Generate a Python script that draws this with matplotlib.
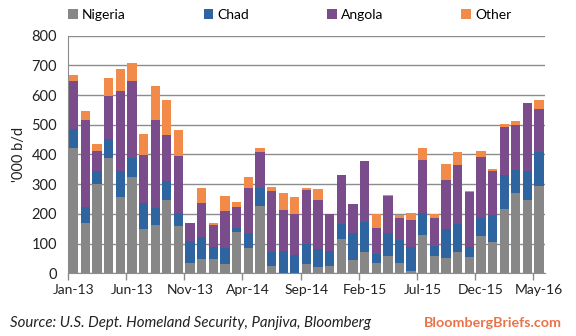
import matplotlib
matplotlib.use("Agg")
import matplotlib.pyplot as plt
import numpy as np

plt.rcParams['font.family'] = ['Lato', 'DejaVu Sans']

months = ["Jan-13", "Feb-13", "Mar-13", "Apr-13", "May-13", "Jun-13", "Jul-13", "Aug-13",
          "Sep-13", "Oct-13", "Nov-13", "Dec-13", "Jan-14", "Feb-14", "Mar-14", "Apr-14",
          "May-14", "Jun-14", "Jul-14", "Aug-14", "Sep-14", "Oct-14", "Nov-14", "Dec-14",
          "Jan-15", "Feb-15", "Mar-15", "Apr-15", "May-15", "Jun-15", "Jul-15", "Aug-15",
          "Sep-15", "Oct-15", "Nov-15", "Dec-15", "Jan-16", "Feb-16", "Mar-16", "Apr-16",
          "May-16"]

nigeria = [421, 168, 302, 387, 256, 323, 148, 162, 246, 158, 34, 47, 47, 33, 138, 86,
           227, 25, 0, 0, 31, 21, 25, 116, 45, 72, 36, 59, 35, 7, 129, 59,
           53, 72, 55, 127, 104, 218, 272, 248, 295]
chad = [64, 54, 44, 64, 90, 66, 90, 59, 64, 46, 76, 76, 43, 53, 16, 50,
        61, 47, 74, 62, 66, 61, 50, 50, 91, 101, 29, 77, 77, 82, 75, 32,
        96, 94, 34, 59, 92, 113, 76, 98, 114]
angola = [164, 295, 67, 147, 269, 260, 160, 294, 154, 192, 61, 115, 74, 124, 68, 151,
          122, 206, 139, 138, 184, 165, 126, 164, 97, 205, 89, 124, 74, 91, 178, 96,
          165, 199, 186, 206, 150, 162, 151, 228, 144]
other = [20, 31, 24, 61, 73, 60, 72, 117, 121, 85, 0, 50, 4, 50, 18, 36,
         12, 13, 57, 57, 6, 37, 0, 0, 0, 0, 46, 4, 10, 22, 40, 13,
         54, 44, 3, 20, 4, 10, 14, 0, 31]

series = [("Nigeria", nigeria, "#878787"),
          ("Chad", chad, "#2E64A0"),
          ("Angola", angola, "#7B4C8C"),
          ("Other", other, "#F28A4A")]

fig = plt.figure(figsize=(5.76, 3.36), dpi=100)
ax = fig.add_axes([0.118, 0.1866, 0.828, 0.7072])

x = np.arange(len(months))
bottom = np.zeros(len(months))
handles = []
for name, vals, color in series:
    vals = np.array(vals, dtype=float)
    b = ax.bar(x, vals, bottom=bottom, width=0.8, color=color, label=name, zorder=3)
    handles.append(b)
    bottom += vals

ax.set_xlim(-0.5, len(months) - 0.5)
ax.set_ylim(0, 800)
ax.set_yticks(range(0, 801, 100))
ax.grid(axis='y', color='#8C8C8C', linewidth=1.0, zorder=0)
ax.tick_params(axis='y', length=0, labelsize=10.5, colors='#222222', pad=8)

# labels every 5th month, tick marks on category boundaries
label_idx = list(range(0, len(months), 5))
ax.set_xticks(label_idx)
ax.set_xticklabels([months[i] for i in label_idx], fontsize=10, color='#222222')
ax.tick_params(axis='x', length=0, pad=8)
ax.set_xticks([i - 0.5 for i in range(0, len(months) + 1, 5)], minor=True)
ax.tick_params(axis='x', which='minor', length=5, color='#8C8C8C', width=1)

for side in ['top', 'right']:
    ax.spines[side].set_visible(False)
ax.spines['left'].set_color('#8C8C8C')
ax.spines['bottom'].set_color('#8C8C8C')

ax.set_ylabel("'000 b/d", fontsize=10.5, color='#222222', labelpad=4)

fig.legend(handles=handles, labels=[s[0] for s in series], loc='center',
           bbox_to_anchor=(0.503, 0.955), ncol=4, frameon=False, fontsize=10,
           handlelength=0.7, handleheight=0.7, handletextpad=0.3, columnspacing=5.6)

fig.text(0.017, 0.04, "Source: U.S. Dept. Homeland Security, Panjiva, Bloomberg",
         fontsize=10.8, style='italic', color='#222222', ha='left', va='center')
fig.text(0.975, 0.04, "BloombergBriefs.com", fontsize=10.3, fontweight='bold',
         color='#EA7248', ha='right', va='center')

fig.savefig("out.png", dpi=100)
